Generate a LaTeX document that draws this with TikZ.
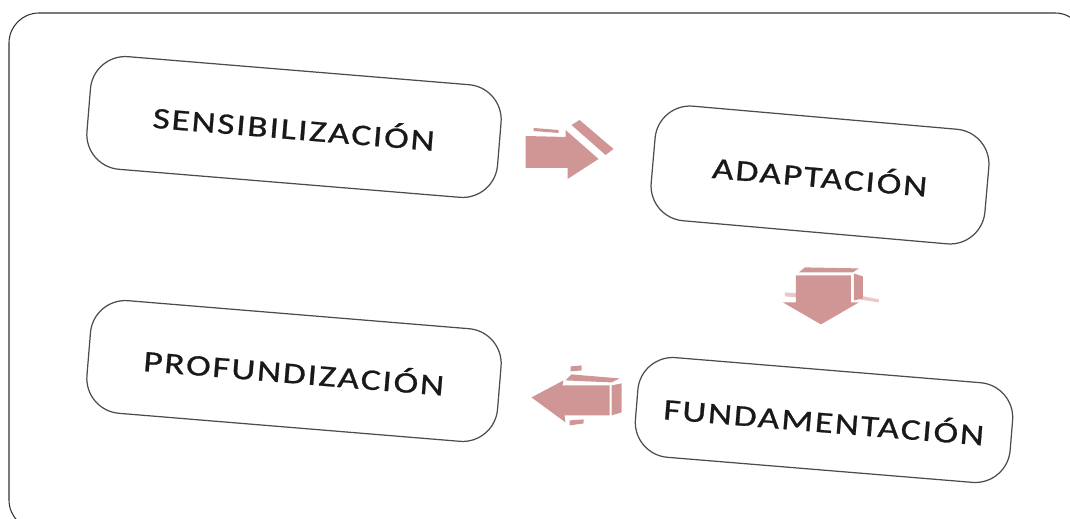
\documentclass[tikz,border=0pt]{standalone}
\usepackage{fontspec}
\setmainfont{Carlito}
\newfontfamily\cajafont[LetterSpace=6, FakeStretch=1.25, FakeBold=0.8]{Carlito}
\usetikzlibrary{calc}
\definecolor{rosa}{RGB}{208,150,150}
\definecolor{rosaclaro}{RGB}{232,200,200}

\begin{document}
\begin{tikzpicture}[
    caja/.style={draw=black!70, line width=0.7pt, rounded corners=0.7cm, inner sep=0pt,
      text=black!90, font=\cajafont\fontsize{17}{20}\selectfont},
    flecha/.style={fill=rosa, draw=none}]
    \clip (0,0) rectangle (21.4,-10.36);
    % marco
    \draw[black!80, line width=0.6pt, rounded corners=0.6cm] (0.18,-0.26) rectangle (21.7,-10.6);

    % cajas
    \node[caja, minimum width=8.24cm, minimum height=2.26cm, rotate=-4.7] (sens) at (5.88,-2.54) {SENSIBILIZACIÓN};
    \node[caja, minimum width=6.7cm, minimum height=2.3cm, rotate=-5] (adap) at (16.4,-3.5) {ADAPTACIÓN};
    \node[caja, minimum width=7.52cm, minimum height=2.0cm, rotate=-4.7] (fund) at (16.48,-8.4) {FUNDAMENTACIÓN};
    \node[caja, minimum width=8.24cm, minimum height=2.26cm, rotate=-4.7] (prof) at (5.88,-7.42) {PROFUNDIZACIÓN};

    % flecha derecha
    \begin{scope}[shift={($(sens.east)!0.43!(adap.west)$)}]
      \fill[flecha] (-0.8,0.3) -- (0,0.28) -- (0,0.42) -- (0.66,-0.16) -- (0.04,-0.56) -- (0.04,-0.34) -- (-0.8,-0.34) -- cycle;
      \fill[flecha] (0.12,0.52) -- (0.28,0.62) -- (0.96,0.04) -- (0.8,-0.08) -- cycle;
      \fill[flecha] (-0.64,0.46) -- (-0.14,0.42) -- (-0.14,0.36) -- (-0.64,0.4) -- cycle;
    \end{scope}

    % flecha abajo
    \begin{scope}[shift={($(adap.south)!0.45!(fund.north)$)}]
      \fill[rosaclaro] (-0.72,0.04) -- (-0.44,0.02) -- (-0.44,-0.06) -- (-0.72,-0.04) -- cycle;
      \fill[rosaclaro] (0.76,-0.02) -- (1.16,-0.1) -- (1.16,-0.16) -- (0.76,-0.1) -- cycle;
      \fill[flecha] (-0.5,0.38) -- (0.6,0.38) -- (0.6,-0.16) -- (0.76,-0.16) -- (0,-0.6) -- (-0.76,-0.16) -- (-0.5,-0.16) -- cycle;
      \fill[flecha] (0.66,0.42) -- (0.84,0.36) -- (0.84,-0.08) -- (0.66,-0.12) -- cycle;
      \fill[flecha] (-0.32,0.54) -- (0.76,0.52) -- (0.64,0.44) -- (-0.44,0.44) -- cycle;
    \end{scope}

    % flecha izquierda
    \begin{scope}[shift={($(fund.west)!0.43!(prof.east)$)}]
      \fill[flecha] (-0.92,0) -- (-0.28,0.34) -- (-0.3,0.24) -- (0.64,0.24) -- (0.64,-0.36) -- (-0.26,-0.36) -- (-0.24,-0.5) -- cycle;
      \fill[flecha] (0.68,0.24) -- (0.88,0.28) -- (0.88,-0.3) -- (0.68,-0.36) -- cycle;
      \fill[flecha] (-0.12,0.46) -- (0.84,0.38) -- (0.68,0.3) -- (-0.24,0.34) -- cycle;
      \fill[flecha] (-0.14,0.62) -- (0.08,0.64) -- (0.08,0.54) -- (-0.14,0.52) -- cycle;
      \fill[flecha] (-0.16,-0.46) -- (0.12,-0.44) -- (0.12,-0.52) -- (-0.16,-0.56) -- cycle;
    \end{scope}
\end{tikzpicture}
\end{document}
